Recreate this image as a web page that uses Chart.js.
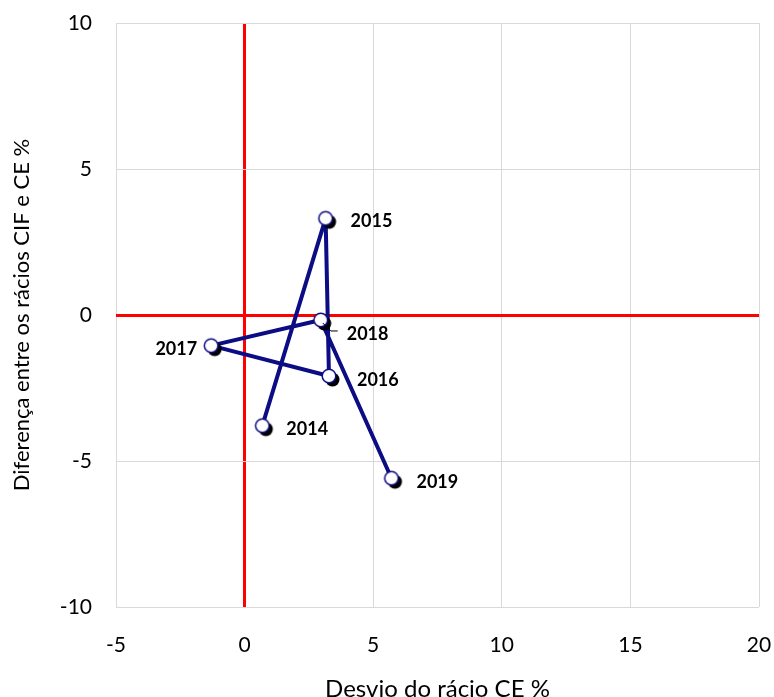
<!DOCTYPE html>
<html>
<head>
<meta charset="utf-8">
<script src="https://cdn.jsdelivr.net/npm/chart.js@4.4.0/dist/chart.umd.min.js"></script>
<style>
  html, body { margin: 0; padding: 0; background: #fff; }
  #wrap { width: 774px; height: 697px; }
</style>
</head>
<body>
<div id="wrap"><canvas id="quadChart"></canvas></div>
<script>
const years = ["2014", "2015", "2016", "2017", "2018", "2019"];
const desvioCE = [0.69, 3.15, 3.28, -1.3, 2.96, 5.71];
const diferencaCIF = [-3.79, 3.31, -2.09, -1.05, -0.17, -5.59];
const xTicks = [-5, 0, 5, 10, 15, 20];
const yTicks = [-10, -5, 0, 5, 10];

const navy = "#0c0c84";
const fontFamily = "Lato, 'Noto Sans', sans-serif";

// marker: white circle with a black shadow down-right
function makeMarker() {
  const c = document.createElement("canvas");
  c.width = 30;
  c.height = 30;
  const g = c.getContext("2d");
  g.fillStyle = "#000";
  g.beginPath();
  g.arc(18.5, 18.5, 7, 0, Math.PI * 2);
  g.fill();
  g.fillStyle = "#fff";
  g.strokeStyle = navy;
  g.lineWidth = 1.5;
  g.beginPath();
  g.arc(15, 15, 6.8, 0, Math.PI * 2);
  g.fill();
  g.stroke();
  return c;
}

// label offsets from the point, in pixels
const labelOffset = {
  "2014": [24, 4, "left"],
  "2015": [25, 3, "left"],
  "2016": [28, 4, "left"],
  "2017": [-14, 4, "right"],
  "2018": [26, 14, "left"],
  "2019": [25, 4, "left"],
};

const yearLabels = {
  id: "yearLabels",
  afterDatasetsDraw(chart) {
    const ctx = chart.ctx;
    const meta = chart.getDatasetMeta(0);
    ctx.save();
    ctx.font = "bold 18px " + fontFamily;
    ctx.fillStyle = "#000";
    ctx.textBaseline = "middle";
    meta.data.forEach((pt, i) => {
      const off = labelOffset[years[i]];
      ctx.textAlign = off[2];
      ctx.fillText(years[i], pt.x + off[0], pt.y + off[1]);
      if (years[i] === "2018") {
        ctx.strokeStyle = "#000";
        ctx.lineWidth = 1;
        ctx.beginPath();
        ctx.moveTo(pt.x + 2, pt.y + 3);
        ctx.lineTo(pt.x + 10, pt.y + 11);
        ctx.lineTo(pt.x + 17, pt.y + 11);
        ctx.stroke();
      }
    });
    ctx.restore();
  },
};

const gridColor = (c) => (c.tick && c.tick.value === 0 ? "#ff0000" : "#d9d9d9");
const gridWidth = (c) => (c.tick && c.tick.value === 0 ? 3 : 1);

new Chart(document.getElementById("quadChart"), {
  type: "scatter",
  data: {
    datasets: [
      {
        data: desvioCE.map((x, i) => ({ x: x, y: diferencaCIF[i] })),
        showLine: true,
        borderColor: navy,
        borderWidth: 4,
        borderJoinStyle: "round",
        borderCapStyle: "round",
        pointStyle: makeMarker(),
        pointRadius: 9,
        pointHoverRadius: 9,
      },
    ],
  },
  options: {
    responsive: true,
    maintainAspectRatio: false,
    animation: false,
    layout: { padding: { top: 23, right: 15, left: 0, bottom: 0 } },
    plugins: {
      legend: { display: false },
      tooltip: { enabled: false },
    },
    scales: {
      x: {
        min: -5,
        max: 20,
        afterBuildTicks: (s) => { s.ticks = xTicks.map((v) => ({ value: v })); },
        afterFit: (s) => {
          s.height = 90;
          s.paddingLeft = 0;
          s.paddingRight = 0;
        },
        grid: { color: gridColor, lineWidth: gridWidth, drawTicks: false },
        border: { display: false },
        ticks: { padding: 26, color: "#000", font: { family: fontFamily, size: 21 } },
        title: {
          display: true,
          text: "Desvio do rácio CE %",
          color: "#000",
          padding: { top: 0, bottom: -4 },
          font: { family: fontFamily, size: 24, lineHeight: 1 },
        },
      },
      y: {
        min: -10,
        max: 10,
        afterBuildTicks: (s) => { s.ticks = yTicks.map((v) => ({ value: v })); },
        afterFit: (s) => {
          s.width = 116;
          s.paddingTop = 0;
          s.paddingBottom = 0;
        },
        grid: { color: gridColor, lineWidth: gridWidth, drawTicks: false },
        border: { display: false },
        ticks: { padding: 24, color: "#000", font: { family: fontFamily, size: 21 } },
        title: {
          display: true,
          text: "Diferença entre os rácios CIF e CE %",
          color: "#000",
          padding: { top: 11, bottom: 0 },
          font: { family: fontFamily, size: 22, lineHeight: 1 },
        },
      },
    },
  },
  plugins: [yearLabels],
});
</script>
</body>
</html>
